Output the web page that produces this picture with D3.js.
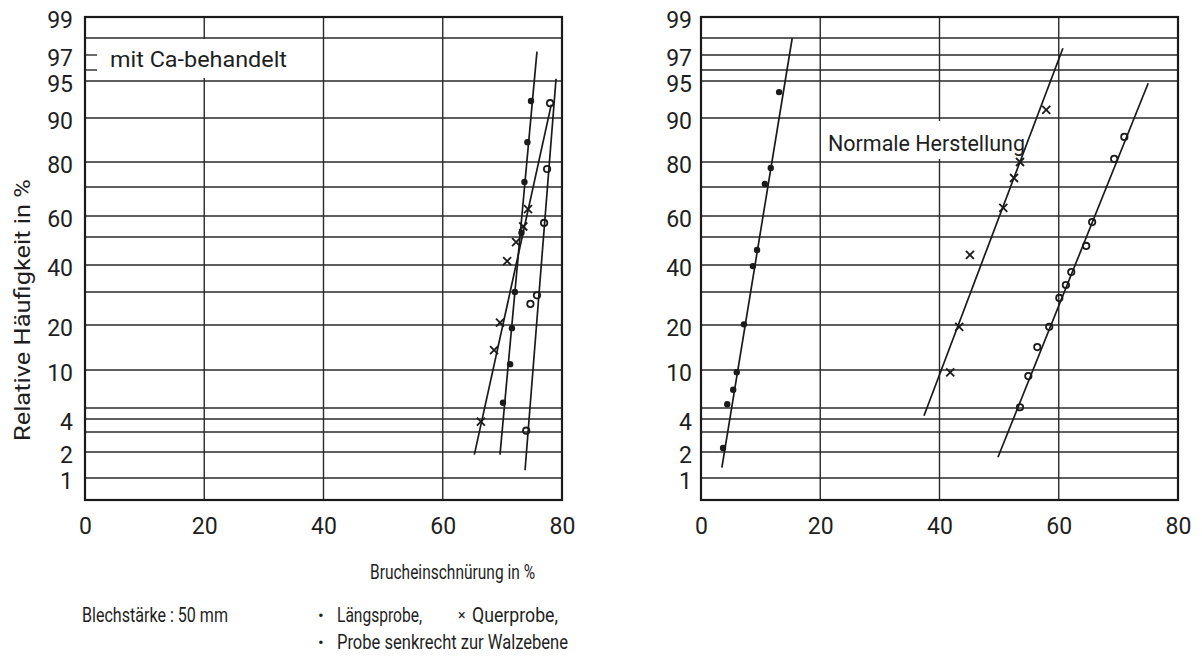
<!DOCTYPE html>
<html>
<head>
<meta charset="utf-8">
<script src="https://cdn.jsdelivr.net/npm/d3@7"></script>
<style>
  body { margin: 0; background: #fff; }
  text { font-family: Roboto, "DejaVu Sans", sans-serif; fill: #1e1e1e; }
</style>
</head>
<body>
<div id="chart"></div>
<script>
// ---- data ----
const xTickValues = [0, 20, 40, 60, 80];
const yTickValues = [1, 2, 4, 10, 20, 40, 60, 80, 90, 95, 97, 99];
const gridLevels = [1, 2, 3, 4, 5, 10, 20, 30, 40, 50, 60, 70, 80, 90, 95, 96, 97, 98];

// probability paper ruling (hand drawn, so not a clean probit): level -> offset from top
const paperLevels = [99, 98, 97, 96, 95, 90, 80, 70, 60, 50, 40, 30, 20, 10, 5, 4, 3, 2, 1, 0.5];
const paperOffsets = [0, 21, 38, 53, 64, 101, 145, 170, 199, 220, 248, 275, 308, 353, 391, 402, 415, 435, 461, 483];

// mit Ca-behandelt
const caLaengsX = [74.0, 74.7, 75.8, 77.0, 77.5, 78.0];
const caLaengsP = [3.1, 26.4, 29, 56.7, 77.2, 92];
const caQuerX = [66.4, 68.6, 69.6, 70.8, 72.3, 73.5, 74.3];
const caQuerP = [3.8, 14.4, 20.7, 41.4, 48.2, 55, 62.4];
const caSenkX = [70.1, 71.3, 71.6, 72.1, 73.2, 73.7, 74.2, 74.8];
const caSenkP = [5.7, 11.3, 19.3, 30, 52, 72, 84.5, 92.3];
// fitted lines [x1, p1, x2, p2]
const caLaengsFit = [73.8, 1.3, 79.0, 95.2];
const caQuerFit = [65.3, 1.9, 78.2, 91.8];
const caSenkFit = [69.6, 1.9, 75.8, 97.2];

// Normale Herstellung
const nLaengsX = [53.5, 54.9, 56.4, 58.4, 60.1, 61.2, 62.1, 64.6, 65.6, 69.3, 71.0];
const nLaengsP = [5.1, 9.2, 15.1, 19.6, 28.2, 32.6, 37.4, 46.8, 57.1, 80.7, 85.7];
const nQuerX = [41.8, 43.3, 45.1, 50.7, 52.5, 53.5, 57.9];
const nQuerP = [9.7, 19.6, 43.6, 62.8, 73.6, 80, 91.1];
const nSenkX = [3.7, 4.4, 5.4, 6.0, 7.2, 8.7, 9.4, 10.7, 11.7, 13.1];
const nSenkP = [2.2, 5.5, 7.4, 9.7, 20.2, 39.6, 45.4, 71.2, 77.6, 93.5];
const nLaengsFit = [49.8, 1.8, 75.0, 94.7];
const nQuerFit = [37.4, 4.3, 60.7, 97.4];
const nSenkFit = [3.5, 1.4, 15.3, 98];

// ---- layout ----
const W = 1202, H = 661;
const plotTop = 17, plotW = 477, plotH = 483;

const svg = d3.select("#chart").append("svg")
    .attr("width", W)
    .attr("height", H);

const x = d3.scaleLinear().domain([0, 80]).range([0, plotW]);
const y = d3.scaleLinear().domain(paperLevels).range(paperOffsets);

const zip = (xs, ps) => xs.map((v, i) => ({ x: v, p: ps[i] }));

const panels = [
    {
        left: 85, labelPad: 12,
        series: [
            { pts: zip(caSenkX, caSenkP), fit: caSenkFit, mark: "dot" },
            { pts: zip(caQuerX, caQuerP), fit: caQuerFit, mark: "cross" },
            { pts: zip(caLaengsX, caLaengsP), fit: caLaengsFit, mark: "ring" }
        ],
        stubLevels: [96, 97],
        note: { text: "mit Ca-behandelt", x: 25, y: 59, len: 177, box: [13, 22, 210, 39] }
    },
    {
        left: 701, labelPad: 9,
        series: [
            { pts: zip(nSenkX, nSenkP), fit: nSenkFit, mark: "dot" },
            { pts: zip(nQuerX, nQuerP), fit: nQuerFit, mark: "cross" },
            { pts: zip(nLaengsX, nLaengsP), fit: nLaengsFit, mark: "ring" }
        ],
        stubLevels: [],
        note: { text: "Normale Herstellung", x: 127, y: 143, len: 197, box: [121, 104, 210, 38] }
    }
];

panels.forEach(pn => {
    const g = svg.append("g").attr("transform", `translate(${pn.left},${plotTop})`);

    // horizontal ruling
    g.selectAll(".hgrid")
        .data(gridLevels)
        .enter().append("line")
        .attr("x1", 0)
        .attr("x2", d => pn.stubLevels.includes(d) ? 12 : plotW)
        .attr("y1", d => y(d))
        .attr("y2", d => y(d))
        .attr("stroke", "#2a2a2a")
        .attr("stroke-width", 1.4);

    // vertical ruling
    g.selectAll(".vgrid")
        .data(xTickValues.slice(1, -1))
        .enter().append("line")
        .attr("x1", d => x(d)).attr("x2", d => x(d))
        .attr("y1", 0).attr("y2", plotH)
        .attr("stroke", "#2a2a2a")
        .attr("stroke-width", 1.4);

    // frame
    g.append("rect")
        .attr("width", plotW)
        .attr("height", plotH)
        .attr("fill", "none")
        .attr("stroke", "#1a1a1a")
        .attr("stroke-width", 2.2);

    // panel note on a white patch
    const b = pn.note.box;
    g.append("rect")
        .attr("x", b[0]).attr("y", b[1])
        .attr("width", b[2]).attr("height", b[3])
        .attr("fill", "#fff");
    g.append("text")
        .attr("x", pn.note.x)
        .attr("y", pn.note.y - plotTop)
        .attr("dy", "0.35em")
        .attr("font-size", 22)
        .attr("textLength", pn.note.len)
        .attr("lengthAdjust", "spacingAndGlyphs")
        .text(pn.note.text);

    // axes (labels only)
    const yAxis = g.append("g")
        .call(d3.axisLeft(y).tickValues(yTickValues).tickSize(0).tickPadding(pn.labelPad).tickFormat(d3.format("d")));
    yAxis.select(".domain").remove();
    yAxis.selectAll("text")
        .attr("font-size", 23)
        .attr("font-family", null)
        .attr("transform", "translate(0,3)");

    const xAxis = g.append("g")
        .attr("transform", `translate(0,${plotH})`)
        .call(d3.axisBottom(x).tickValues(xTickValues).tickSize(0).tickPadding(18).tickFormat(d3.format("d")));
    xAxis.select(".domain").remove();
    xAxis.selectAll("text")
        .attr("font-size", 23)
        .attr("font-family", null);

    // fitted lines and points
    pn.series.forEach(s => {
        g.append("line")
            .attr("x1", x(s.fit[0])).attr("y1", y(s.fit[1]))
            .attr("x2", x(s.fit[2])).attr("y2", y(s.fit[3]))
            .attr("stroke", "#1a1a1a")
            .attr("stroke-width", 1.7);

        const pts = g.selectAll(null)
            .data(s.pts)
            .enter().append("g")
            .attr("transform", d => `translate(${x(d.x)},${y(d.p)})`);

        if (s.mark === "cross") {
            pts.append("path")
                .attr("d", "M-4,-4L4,4M4,-4L-4,4")
                .attr("stroke", "#1a1a1a")
                .attr("stroke-width", 1.8);
        } else if (s.mark === "ring") {
            pts.append("circle")
                .attr("r", 3.2)
                .attr("fill", "none")
                .attr("stroke", "#1a1a1a")
                .attr("stroke-width", 1.8);
        } else {
            pts.append("circle")
                .attr("r", 3.2)
                .attr("fill", "#1a1a1a");
        }
    });
});

// axis titles and notes
svg.append("text")
    .attr("transform", "translate(22,310) rotate(-90)")
    .attr("text-anchor", "middle")
    .attr("dy", "0.35em")
    .attr("font-size", 22)
    .attr("textLength", 262)
    .attr("lengthAdjust", "spacingAndGlyphs")
    .text("Relative Häufigkeit in %");

svg.append("text")
    .attr("x", 370).attr("y", 572)
    .attr("dy", "0.35em")
    .attr("font-size", 20)
    .attr("textLength", 165)
    .attr("lengthAdjust", "spacingAndGlyphs")
    .text("Brucheinschnürung in %");

svg.append("text")
    .attr("x", 82).attr("y", 615)
    .attr("dy", "0.35em")
    .attr("font-size", 20)
    .attr("textLength", 146)
    .attr("lengthAdjust", "spacingAndGlyphs")
    .text("Blechstärke : 50 mm");

// legend
const legend = [
    { sym: "•", label: "Längsprobe,", x: 318, y: 615, len: 85 },
    { sym: "×", label: "Querprobe,", x: 458, y: 615, len: 86 },
    { sym: "•", label: "Probe senkrecht zur Walzebene", x: 318, y: 642, len: 231 }
];
const lg = svg.append("g");
lg.selectAll(".sym")
    .data(legend)
    .enter().append("text")
    .attr("x", d => d.x).attr("y", d => d.y)
    .attr("dy", "0.35em")
    .attr("font-size", d => d.sym === "×" ? 14 : 17)
    .text(d => d.sym);
lg.selectAll(".lab")
    .data(legend)
    .enter().append("text")
    .attr("x", d => d.x + (d.sym === "×" ? 14 : 19)).attr("y", d => d.y)
    .attr("dy", "0.35em")
    .attr("font-size", 20)
    .attr("textLength", d => d.len)
    .attr("lengthAdjust", "spacingAndGlyphs")
    .text(d => d.label);
</script>
</body>
</html>
